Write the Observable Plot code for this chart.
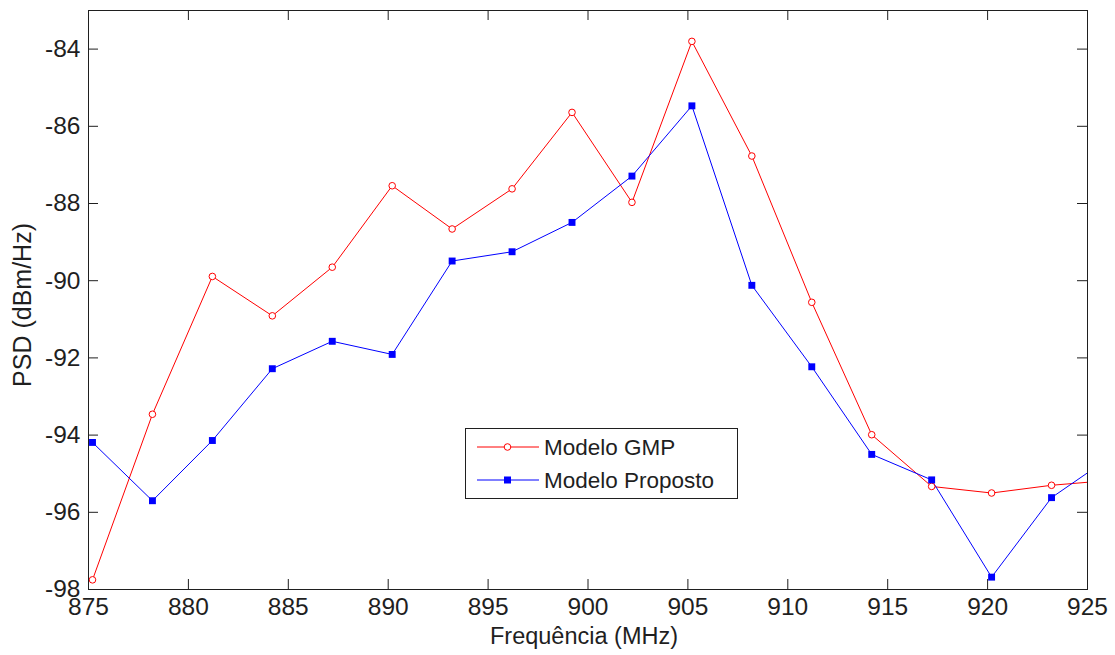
<!DOCTYPE html>
<html><head><meta charset="utf-8">
<script src="https://cdn.jsdelivr.net/npm/d3@7"></script>
<script src="https://cdn.jsdelivr.net/npm/@observablehq/plot@0.6"></script>
<style>
html,body{margin:0;padding:0;background:#fff;}
#wrap{position:relative;width:1115px;height:655px;font-family:"Liberation Sans",Arial,sans-serif;}
#legend{position:absolute;left:465px;top:428px;}
</style></head><body><div id="wrap"><svg id="legend" width="274" height="72"></svg></div>
<script>
const freq = [875.2, 878.2, 881.2, 884.2, 887.2, 890.2, 893.2, 896.2, 899.2, 902.2, 905.2, 908.2, 911.2, 914.2, 917.2, 920.2, 923.2, 926.2];
const gmp = [-97.75, -93.46, -89.89, -90.91, -89.65, -87.54, -88.66, -87.62, -85.64, -87.97, -83.80, -86.77, -90.56, -93.99, -95.33, -95.50, -95.30, -95.17];
const proposto = [-94.19, -95.70, -94.14, -92.28, -91.57, -91.91, -89.49, -89.25, -88.49, -87.29, -85.47, -90.12, -92.23, -94.50, -95.16, -97.68, -95.62, -94.55];
const seriesNames = ["Modelo GMP", "Modelo Proposto"];
const xTicks = [875, 880, 885, 890, 895, 900, 905, 910, 915, 920, 925];
const yTicks = [-98, -96, -94, -92, -90, -88, -86, -84];
const xLabel = "Frequência (MHz)";
const yLabel = "PSD (dBm/Hz)";

const W = 1115, H = 655, mL = 88, mR = 28, mT = 10, mB = 66;
const xDom = [875, 925], yDom = [-98, -83];
const tickLen = 10;
const ux = tickLen * (xDom[1] - xDom[0]) / (W - mL - mR);
const uy = tickLen * (yDom[1] - yDom[0]) / (H - mT - mB);
const ink = "#1f1f1f";
const font = "Liberation Sans, Arial, sans-serif";

const gmpData = freq.map((f, i) => ({f, v: gmp[i]}));
const propData = freq.map((f, i) => ({f, v: proposto[i]}));
const innerX = xTicks.filter(t => t > xDom[0] && t < xDom[1]);
const innerY = yTicks.filter(t => t > yDom[0] && t < yDom[1]);

const chart = Plot.plot({
  width: W, height: H,
  marginLeft: mL, marginRight: mR, marginTop: mT, marginBottom: mB,
  style: {fontFamily: font, background: "white", color: ink},
  x: {domain: xDom},
  y: {domain: yDom},
  marks: [
    Plot.ruleX(innerX, {x: d => d, y1: yDom[0], y2: yDom[0] + uy, stroke: ink}),
    Plot.ruleX(innerX, {x: d => d, y1: yDom[1], y2: yDom[1] - uy, stroke: ink}),
    Plot.ruleY(innerY, {y: d => d, x1: xDom[0], x2: xDom[0] + ux, stroke: ink}),
    Plot.ruleY(innerY, {y: d => d, x1: xDom[1], x2: xDom[1] - ux, stroke: ink}),
    Plot.axisX({ticks: xTicks, tickSize: 0, tickPadding: 8, fontSize: 24.5, label: null, tickFormat: d => String(d)}),
    Plot.axisY({ticks: yTicks, tickSize: 0, tickPadding: 8, fontSize: 24.5, label: null, tickFormat: d => String(d)}),
    Plot.line(gmpData, {x: "f", y: "v", stroke: "#ff0000", strokeWidth: 1, clip: true}),
    Plot.line(propData, {x: "f", y: "v", stroke: "#0000ff", strokeWidth: 1, clip: true}),
    Plot.dot(gmpData, {x: "f", y: "v", r: 3.3, stroke: "#ff0000", fill: "white", strokeWidth: 1, clip: true}),
    Plot.dot(propData, {x: "f", y: "v", symbol: "square", r: 3.9, fill: "#0000ff", stroke: "none", clip: true}),
    Plot.frame({stroke: ink}),
    Plot.text([xLabel], {text: d => d, frameAnchor: "bottom", textAnchor: "middle", lineAnchor: "middle", dy: 47, dx: -4, fontSize: 23.5, fill: ink}),
    Plot.text([yLabel], {text: d => d, x: xDom[0], y: (yDom[0] + yDom[1]) / 2, textAnchor: "middle", lineAnchor: "middle", dx: -66, dy: 5, rotate: -90, fontSize: 25, fill: ink})
  ]
});
document.getElementById("wrap").prepend(chart);

// legend
const lg = d3.select("#legend");
lg.append("rect").attr("x", 0.5).attr("y", 0.5).attr("width", 272).attr("height", 70)
  .attr("fill", "white").attr("stroke", ink);
const rows = [
  {name: seriesNames[0], color: "#ff0000", kind: "circle", y: 19},
  {name: seriesNames[1], color: "#0000ff", kind: "square", y: 52}
];
rows.forEach(r => {
  lg.append("line").attr("x1", 12).attr("x2", 74).attr("y1", r.y).attr("y2", r.y)
    .attr("stroke", r.color).attr("stroke-width", 1);
  if (r.kind === "circle") {
    lg.append("circle").attr("cx", 42.5).attr("cy", r.y).attr("r", 3.3)
      .attr("fill", "white").attr("stroke", r.color);
  } else {
    lg.append("rect").attr("x", 42.5 - 3.5).attr("y", r.y - 3.5).attr("width", 7).attr("height", 7)
      .attr("fill", r.color);
  }
  lg.append("text").attr("x", 79).attr("y", r.y).attr("dy", "0.35em")
    .attr("font-family", font).attr("font-size", 22.5).attr("fill", ink).text(r.name);
});
</script>
</body></html>
